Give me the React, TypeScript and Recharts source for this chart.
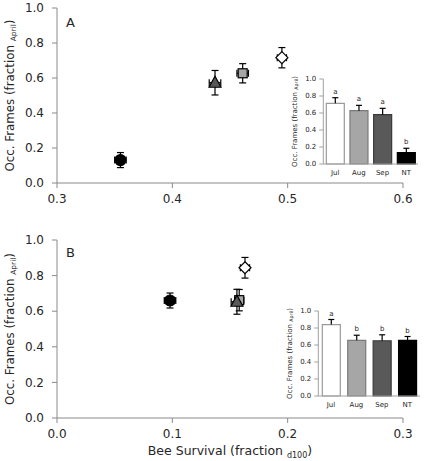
import React from "react";
import { ScatterChart, Scatter, XAxis, YAxis, ErrorBar, BarChart, Bar, Cell, LabelList } from "recharts";

const months = ["Jul", "Aug", "Sep", "NT"];
const fills = ["#ffffff", "#a6a6a6", "#595959", "#000000"];
const barStrokes = ["#9a9a9a", "#7a7a7a", "#3a3a3a", "#000000"];
const shapes = ["diamond", "square", "triangle", "circle"];

// panel A
const survivalA = [0.495, 0.461, 0.437, 0.355];
const survivalErrA = [0.004, 0.005, 0.005, 0.005];
const framesA = [0.716, 0.627, 0.573, 0.131];
const framesErrA = [0.058, 0.055, 0.07, 0.043];
const barA = [0.714, 0.627, 0.58, 0.133];
const barErrA = [0.066, 0.063, 0.075, 0.052];
const lettersA = ["a", "a", "a", "b"];

// panel B
const survivalB = [0.163, 0.158, 0.156, 0.098];
const survivalErrB = [0.004, 0.004, 0.005, 0.005];
const framesB = [0.844, 0.662, 0.653, 0.66];
const framesErrB = [0.058, 0.06, 0.07, 0.042];
const barB = [0.84, 0.655, 0.65, 0.655];
const barErrB = [0.06, 0.06, 0.07, 0.045];
const lettersB = ["a", "b", "b", "b"];

const xTicksA = [0.3, 0.4, 0.5, 0.6];
const xTicksB = [0, 0.1, 0.2, 0.3];
const yTicks = [0, 0.2, 0.4, 0.6, 0.8, 1.0];

const FONT = "'DejaVu Sans', Verdana, sans-serif";
const AXIS = "#8a8a8a";
const INK = "#262626";

const marker = (kind: string, fill: string) => (props: any) => {
  const { cx, cy } = props;
  const sw = 1.2;
  if (kind === "diamond")
    return <polygon points={`${cx},${cy - 6} ${cx + 6},${cy} ${cx},${cy + 6} ${cx - 6},${cy}`} fill={fill} stroke="#000" strokeWidth={sw} />;
  if (kind === "square")
    return <rect x={cx - 4.5} y={cy - 4.5} width={9} height={9} fill={fill} stroke="#000" strokeWidth={sw} />;
  if (kind === "triangle")
    return <polygon points={`${cx},${cy - 6.5} ${cx + 6},${cy + 4.5} ${cx - 6},${cy + 4.5}`} fill={fill} stroke="#000" strokeWidth={sw} />;
  return <circle cx={cx} cy={cy} r={5.5} fill={fill} stroke="#000" strokeWidth={sw} />;
};

const YLabel = (size: number, sub: number, dx: number) => (props: any) => {
  const vb = props.viewBox;
  const cx = vb.x + dx;
  const cy = vb.y + vb.height / 2;
  return (
    <text x={cx} y={cy} textAnchor="middle" transform={`rotate(-90 ${cx} ${cy})`} fontFamily={FONT} fontSize={size} fill={INK}>
      Occ. Frames (fraction <tspan fontSize={sub} dy={size * 0.2}>April</tspan>
      <tspan dy={-size * 0.2}>)</tspan>
    </text>
  );
};

const XLabel = (props: any) => {
  const vb = props.viewBox;
  const cx = vb.x + vb.width / 2;
  return (
    <text x={cx} y={vb.y + 37} textAnchor="middle" fontFamily={FONT} fontSize={12.5} fill={INK}>
      Bee Survival (fraction <tspan fontSize={8} dy={2.5}>d100</tspan>
      <tspan dy={-2.5}>)</tspan>
    </text>
  );
};

function MainPanel(props: { x: number[]; xe: number[]; y: number[]; ye: number[]; xTicks: number[]; height: number; margin: any; xLabel?: boolean }) {
  const { x, xe, y, ye, xTicks, height, margin, xLabel } = props;
  return (
    <ScatterChart width={430} height={height} margin={margin}>
      <XAxis
        type="number"
        dataKey="x"
        domain={[xTicks[0], xTicks[xTicks.length - 1]]}
        ticks={xTicks}
        tickFormatter={(v: number) => v.toFixed(1)}
        stroke={AXIS}
        tickSize={5}
        tickMargin={6}
        height={30}
        tick={{ fill: INK, fontSize: 12, fontFamily: FONT }}
        label={xLabel ? { content: XLabel } : undefined}
      />
      <YAxis
        type="number"
        dataKey="y"
        domain={[0, 1]}
        ticks={yTicks}
        tickFormatter={(v: number) => v.toFixed(1)}
        stroke={AXIS}
        tickSize={5}
        tickMargin={8}
        width={45}
        tick={{ fill: INK, fontSize: 12, fontFamily: FONT }}
        label={{ content: YLabel(11.8, 7.5, 2) }}
      />
      {months.map((m, i) => (
        <Scatter
          key={m}
          name={m}
          data={[{ x: x[i], y: y[i], ex: xe[i], ey: ye[i] }]}
          shape={marker(shapes[i], fills[i])}
          isAnimationActive={false}
        >
          <ErrorBar dataKey="ex" direction="x" width={3.5} stroke="#000" strokeWidth={1.2} />
          <ErrorBar dataKey="ey" direction="y" width={3.5} stroke="#000" strokeWidth={1.2} />
        </Scatter>
      ))}
    </ScatterChart>
  );
}

function Inset(props: { vals: number[]; errs: number[]; letters: string[]; width: number; margin: any }) {
  const { vals, errs, letters, width, margin } = props;
  const data = months.map((m, i) => ({ month: m, value: vals[i], letter: letters[i] }));
  return (
    <BarChart width={width} height={115} data={data} margin={margin} barSize={18}>
      <XAxis
        dataKey="month"
        stroke="#a0a0a0"
        tickLine={false}
        tickSize={3}
        tickMargin={3}
        height={14}
        interval={0}
        tick={{ fill: INK, fontSize: 7, fontFamily: FONT }}
      />
      <YAxis
        domain={[0, 1]}
        ticks={yTicks}
        tickFormatter={(v: number) => v.toFixed(1)}
        stroke="#a0a0a0"
        tickSize={4}
        tickMargin={3}
        width={25.3}
        tick={{ fill: INK, fontSize: 7, fontFamily: FONT }}
        label={{ content: YLabel(7, 4.8, -1) }}
      />
      <Bar dataKey="value" isAnimationActive={false} strokeWidth={1.2}>
        {data.map((d, i) => (
          <Cell key={d.month} fill={fills[i]} stroke={barStrokes[i]} />
        ))}
        <LabelList
          dataKey="letter"
          content={(p: any) => {
            const vb = p.viewBox || p;
            const i = p.index;
            const bx = vb.x ?? p.x;
            const by = vb.y ?? p.y;
            const bw = vb.width ?? p.width;
            const bh = vb.height ?? p.height;
            const cx = bx + bw / 2;
            const top = by - (errs[i] / vals[i]) * bh;
            return (
              <g>
                <line x1={cx} y1={by} x2={cx} y2={top} stroke="#000" strokeWidth={1.2} />
                <line x1={cx - 3} y1={top} x2={cx + 3} y2={top} stroke="#000" strokeWidth={1.2} />
                <text x={cx} y={top - 4} textAnchor="middle" fontFamily={FONT} fontSize={7} fill={INK}>
                  {letters[i]}
                </text>
              </g>
            );
          }}
        />
      </Bar>
    </BarChart>
  );
}

export default function App() {
  const tag = { position: "absolute" as const, fontFamily: FONT, fontSize: 13, color: INK, lineHeight: "13px" };
  return (
    <div style={{ position: "absolute", left: 0, top: 0, width: 430, height: 461, background: "#fff", overflow: "hidden" }}>
      <div style={{ position: "absolute", left: 0, top: 0 }}>
        <MainPanel x={survivalA} xe={survivalErrA} y={framesA} ye={framesErrA} xTicks={xTicksA} height={225} margin={{ top: 8, right: 27, bottom: 12, left: 12 }} />
      </div>
      <div style={{ position: "absolute", left: 0, top: 225 }}>
        <MainPanel x={survivalB} xe={survivalErrB} y={framesB} ye={framesErrB} xTicks={xTicksB} height={236} margin={{ top: 15, right: 27, bottom: 13, left: 12 }} xLabel />
      </div>
      <div style={{ ...tag, left: 66, top: 16 }}>A</div>
      <div style={{ ...tag, left: 66, top: 246 }}>B</div>
      <div style={{ position: "absolute", left: 290, top: 70 }}>
        <Inset vals={barA} errs={barErrA} letters={lettersA} width={135} margin={{ top: 9, right: 7, bottom: 7, left: 8 }} />
      </div>
      <div style={{ position: "absolute", left: 285, top: 302 }}>
        <Inset vals={barB} errs={barErrB} letters={lettersB} width={140} margin={{ top: 9, right: 5, bottom: 7, left: 8 }} />
      </div>
    </div>
  );
}
